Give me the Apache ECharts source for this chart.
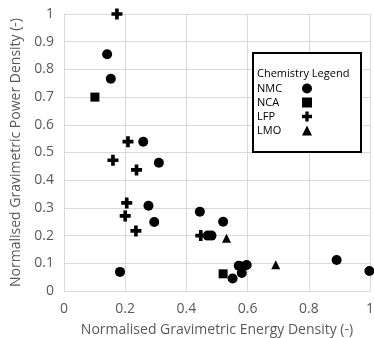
<!DOCTYPE html>
<html>
<head>
<meta charset="utf-8">
<script src="https://cdn.jsdelivr.net/npm/echarts@6/dist/echarts.min.js"></script>
<style>
  html, body { margin: 0; padding: 0; background: #fff; }
  #chart { width: 374px; height: 338px; }
</style>
</head>
<body>
<div id="chart"></div>
<script>
// values
var nmcEnergy = [0.141, 0.153, 0.259, 0.310, 0.276, 0.295, 0.183, 0.444, 0.520, 0.470, 0.482, 0.571, 0.584, 0.597, 0.581, 0.551, 0.891, 0.998];
var nmcPower  = [0.855, 0.766, 0.539, 0.463, 0.308, 0.249, 0.069, 0.286, 0.250, 0.200, 0.200, 0.091, 0.088, 0.094, 0.065, 0.045, 0.112, 0.072];
var ncaEnergy = [0.101, 0.520];
var ncaPower  = [0.700, 0.062];
var lfpEnergy = [0.173, 0.209, 0.160, 0.237, 0.205, 0.200, 0.235, 0.447];
var lfpPower  = [1.000, 0.539, 0.472, 0.437, 0.318, 0.271, 0.217, 0.200];
var lmoEnergy = [0.531, 0.692];
var lmoPower  = [0.190, 0.095];
var xTicks = [0, 0.2, 0.4, 0.6, 0.8, 1];
var yTicks = [0, 0.1, 0.2, 0.3, 0.4, 0.5, 0.6, 0.7, 0.8, 0.9, 1];

var plusPath = "path://M4,0H8V4H12V8H8V12H4V8H0V4H4Z";
var font = "'Open Sans', 'Noto Sans', sans-serif";
var gray = "#595959";
var gridGray = "#d9d9d9";

function pairs(xs, ys) {
  var out = [];
  for (var i = 0; i < xs.length; i++) {
    out.push([xs[i], ys[i]]);
  }
  return out;
}

// a dash array keeps the grid lines out of zrender's path batching
// (batched lines came out in the wrong colour), but still draws them solid
var gridLine = { show: true, lineStyle: { color: gridGray, width: 1, type: [400, 0] } };

var chart = echarts.init(document.getElementById("chart"));
var option = {
  animation: false,
  grid: { left: 64, right: 4, top: 14, bottom: 47, outerBoundsMode: "none" },
  xAxis: {
    type: "value",
    min: xTicks[0],
    max: xTicks[xTicks.length - 1],
    interval: 0.2,
    name: "Normalised Gravimetric Energy Density (-)",
    nameLocation: "middle",
    nameGap: 32,
    nameTextStyle: { color: gray, fontSize: 14, fontFamily: font },
    axisLine: { show: true, lineStyle: { color: gridGray, width: 1 } },
    axisTick: { show: false },
    axisLabel: { color: gray, fontSize: 14, margin: 11, fontFamily: font },
    splitLine: gridLine
  },
  yAxis: {
    type: "value",
    min: yTicks[0],
    max: yTicks[yTicks.length - 1],
    interval: 0.1,
    name: "Normalised Gravimetric Power Density (-)",
    nameLocation: "middle",
    nameGap: 33,
    nameTextStyle: { color: gray, fontSize: 14, fontFamily: font },
    axisLine: { show: true, lineStyle: { color: gridGray, width: 1 } },
    axisTick: { show: false },
    axisLabel: { color: gray, fontSize: 14, margin: 10, fontFamily: font },
    splitLine: gridLine
  },
  legend: {
    orient: "vertical",
    left: 257,
    top: 83,
    padding: 0,
    align: "right",
    itemGap: 3,
    itemWidth: 10,
    itemHeight: 10,
    data: ["NMC", "NCA", "LFP", "LMO"],
    formatter: "{n|{name}}",
    textStyle: {
      color: "#000",
      fontSize: 11,
      fontFamily: font,
      rich: { n: { width: 40, align: "left", fontSize: 11, color: "#000", fontFamily: font } }
    }
  },
  graphic: [
    {
      type: "rect",
      z: 3,
      shape: { x: 253, y: 53, width: 108, height: 99 },
      style: { fill: "#fff", stroke: "#000", lineWidth: 2 }
    },
    {
      type: "text",
      z: 5,
      left: 257,
      top: 68,
      style: { text: "Chemistry Legend", fill: "#000", font: "11px " + font }
    }
  ],
  series: [
    {
      name: "NMC",
      type: "scatter",
      symbol: "circle",
      symbolSize: 10,
      itemStyle: { color: "#000", opacity: 1 },
      data: pairs(nmcEnergy, nmcPower)
    },
    {
      name: "NCA",
      type: "scatter",
      symbol: "rect",
      symbolSize: 9,
      itemStyle: { color: "#000", opacity: 1 },
      data: pairs(ncaEnergy, ncaPower)
    },
    {
      name: "LFP",
      type: "scatter",
      symbol: plusPath,
      symbolSize: 11,
      itemStyle: { color: "#000", opacity: 1 },
      data: pairs(lfpEnergy, lfpPower)
    },
    {
      name: "LMO",
      type: "scatter",
      symbol: "triangle",
      symbolSize: 9,
      itemStyle: { color: "#000", opacity: 1 },
      data: pairs(lmoEnergy, lmoPower)
    }
  ]
};
chart.setOption(option);
</script>
</body>
</html>
